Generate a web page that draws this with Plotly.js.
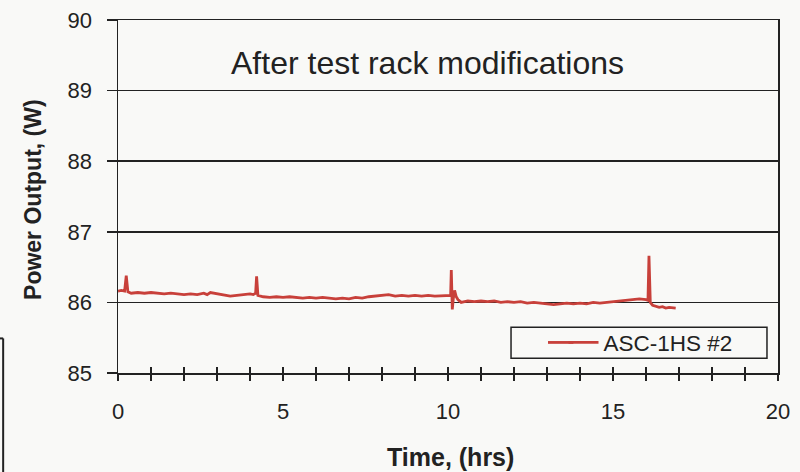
<!DOCTYPE html>
<html>
<head>
<meta charset="utf-8">
<script src="https://cdn.plot.ly/plotly-3.0.1.min.js"></script>
<style>html,body{margin:0;padding:0;background:#f9f9f7;}#chart{width:800px;height:472px;}</style>
</head>
<body>
<div id="chart"></div>
<script>
var seriesName = "ASC-1HS #2";
var timeHrs = [0.0,0.1,0.2,0.25,0.3,0.4,0.6,0.8,1.0,1.2,1.4,1.6,1.8,2.0,2.2,2.4,2.6,2.7,2.8,3.0,3.2,3.4,3.6,3.8,4.0,4.1,4.17,4.2,4.24,4.4,4.6,4.8,5.0,5.2,5.4,5.6,5.8,6.0,6.2,6.4,6.6,6.8,7.0,7.2,7.4,7.6,7.8,8.0,8.2,8.4,8.6,8.8,9.0,9.2,9.4,9.6,9.8,10.0,10.08,10.1,10.13,10.16,10.2,10.25,10.3,10.4,10.6,10.8,11.0,11.2,11.4,11.6,11.8,12.0,12.2,12.4,12.6,12.8,13.0,13.2,13.4,13.6,13.8,14.0,14.2,14.4,14.6,14.8,15.0,15.2,15.4,15.6,15.8,16.0,16.06,16.09,16.13,16.2,16.3,16.4,16.5,16.6,16.7,16.8,16.9];
var powerW = [86.16,86.17,86.16,86.38,86.15,86.13,86.14,86.13,86.14,86.13,86.12,86.13,86.12,86.11,86.12,86.11,86.13,86.11,86.14,86.12,86.10,86.09,86.10,86.11,86.12,86.11,86.13,86.37,86.10,86.08,86.07,86.08,86.07,86.08,86.07,86.06,86.07,86.06,86.07,86.06,86.05,86.06,86.05,86.07,86.06,86.08,86.09,86.10,86.11,86.09,86.10,86.09,86.10,86.09,86.10,86.09,86.09,86.09,86.10,86.46,85.90,86.05,86.17,86.08,86.04,86.00,86.02,86.01,86.02,86.01,86.02,86.00,86.01,86.00,86.01,85.99,86.00,85.99,85.98,85.97,85.98,85.99,85.98,85.99,85.98,86.00,85.99,86.00,86.01,86.01,86.02,86.03,86.05,86.04,86.03,86.66,86.00,85.96,85.94,85.93,85.94,85.92,85.93,85.92,85.92];
var xTicks = [0,5,10,15,20];
var yTicks = [85,86,87,88,89,90];
var titleText = "After test rack modifications";
var xTitle = "Time, (hrs)";
var yTitle = "Power Output, (W)";

var FONT = "Arial, 'Liberation Sans', sans-serif";
var LINE_COLOR = "#c8403a";
var trace = {
  x: timeHrs, y: powerW, type: "scatter", mode: "lines", name: seriesName,
  line: {color: LINE_COLOR, width: 2.8}, hoverinfo: "skip"
};
var tickTrace = {x: [], y: [], xaxis: "x2", yaxis: "y", type: "scatter", mode: "lines",
  showlegend: false, hoverinfo: "skip"};
var layout = {
  width: 800, height: 472,
  margin: {l: 118, r: 22, t: 20, b: 99.3},
  paper_bgcolor: "#f9f9f7", plot_bgcolor: "#f9f9f7",
  font: {family: FONT, color: "#222", size: 22},
  showlegend: true,
  title: {text: titleText, font: {size: 32, color: "#222", family: FONT},
    xref: "paper", yref: "paper", x: 0.469, y: 0.88, xanchor: "center", yanchor: "middle"},
  xaxis: {
    range: [0, 20], tickvals: xTicks, ticktext: xTicks.map(String),
    ticks: "outside", ticklen: 6, tickwidth: 1.5, tickcolor: "#222",
    minor: {dtick: 1, ticks: "outside", ticklen: 6, tickwidth: 1.5, tickcolor: "#222", showgrid: false},
    showline: true, linecolor: "#222", linewidth: 1.5, mirror: true,
    showgrid: false, zeroline: false, ticklabelstandoff: 12,
    tickfont: {size: 22, color: "#222"}
  },
  xaxis2: {
    range: [0, 20], overlaying: "x", anchor: "y", side: "bottom", dtick: 1, tick0: 0,
    ticks: "inside", ticklen: 6, tickwidth: 1.5, tickcolor: "#222",
    showticklabels: false, showgrid: false, zeroline: false, showline: false
  },
  yaxis: {
    range: [85, 90], tickvals: yTicks, ticktext: yTicks.map(String),
    ticks: "outside", ticklen: 10, tickwidth: 1.5, tickcolor: "#222",
    showline: true, linecolor: "#222", linewidth: 1.5, mirror: true,
    showgrid: true, gridcolor: "#222", gridwidth: 1.5, zeroline: false,
    ticklabelstandoff: 10, tickfont: {size: 22, color: "#222"}
  },
  annotations: [
    {text: "<b>" + yTitle + "</b>", xref: "paper", yref: "paper", x: -0.1288, y: 0.493,
      xanchor: "center", yanchor: "middle", textangle: -90, showarrow: false,
      font: {size: 23, color: "#222", family: FONT}},
    {text: "<b>" + xTitle + "</b>", xref: "paper", yref: "paper", x: 0.5045, y: -0.238,
      xanchor: "center", yanchor: "middle", showarrow: false,
      font: {size: 25, color: "#222", family: FONT}}
  ],
  legend: {x: 0.675, y: 0.0856, xanchor: "left", yanchor: "middle",
    bgcolor: "rgba(0,0,0,0)", borderwidth: 0, font: {size: 22.5, color: "#222"}},
  shapes: [
    {type: "rect", xref: "paper", yref: "paper", x0: 0.5955, x1: 0.9833, y0: 0.0417, y1: 0.1296,
      line: {color: "#222", width: 1.5}, fillcolor: "rgba(0,0,0,0)"},
    {type: "line", xref: "paper", yref: "paper", x0: 0.6515, x1: 0.69, y0: 0.0866, y1: 0.0866,
      line: {color: LINE_COLOR, width: 2.8}},
    {type: "line", xref: "paper", yref: "paper", x0: -0.174, x1: -0.174, y0: 0.098, y1: -0.29,
      line: {color: "#222", width: 2}},
    {type: "line", xref: "paper", yref: "paper", x0: -0.18, x1: -0.174, y0: 0.098, y1: 0.098,
      line: {color: "#222", width: 2}}
  ]
};
Plotly.newPlot("chart", [trace, tickTrace], layout, {displayModeBar: false, staticPlot: true});
</script>
</body>
</html>
